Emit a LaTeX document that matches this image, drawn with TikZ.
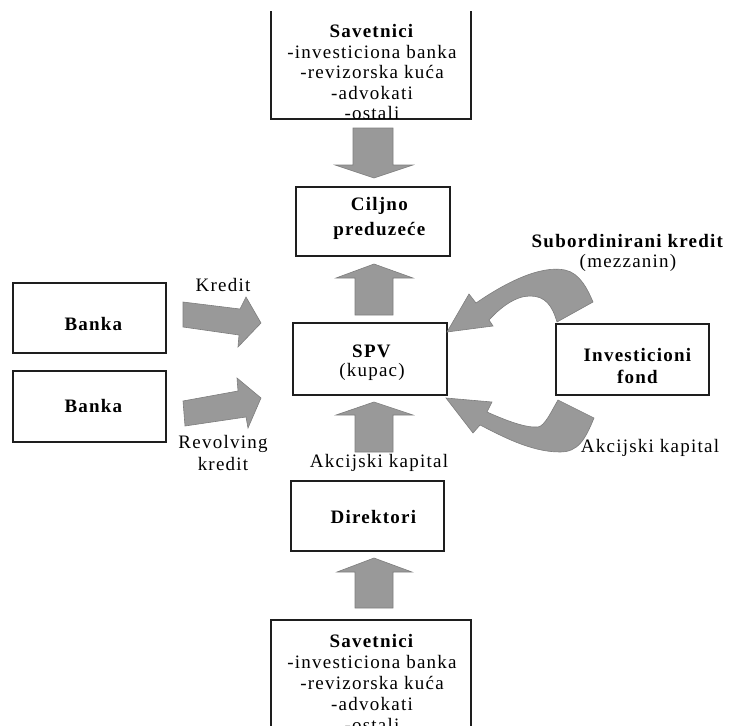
\documentclass[tikz,border=0pt]{standalone}
\usepackage{fontspec}
\setmainfont{Liberation Serif}[LetterSpace=6.5]
\definecolor{arrowfill}{RGB}{153,153,153}
\definecolor{arrowline}{RGB}{125,125,125}
\definecolor{boxline}{RGB}{30,30,30}
\begin{document}
\begin{tikzpicture}[x=1pt,y=-1pt,
  box/.style={draw=boxline,line width=1.3pt,inner sep=0pt,outer sep=0pt},
  boxedge/.style={draw=boxline,line width=1.3pt},
  txt/.style={font=\fontsize{19}{21}\selectfont,align=center,inner sep=0pt,text=black},
  blk/.style={fill=arrowfill,draw=arrowline,line width=0.6pt,line join=miter}]
\path[use as bounding box] (0,0) rectangle (729,726);
\begin{scope}
\clip (0,0) rectangle (729,726);
% boxes
\node[box,draw=none,minimum width=200pt,minimum height=108pt] (sav1) at (371,65) {};
\draw[boxedge] (sav1.north west) -- (sav1.south west) -- (sav1.south east) -- (sav1.north east);
\node[box,minimum width=154pt,minimum height=69pt] (cilj) at (373,221.5) {};
\node[box,minimum width=154pt,minimum height=72pt] (spv) at (370,359) {};
\node[box,minimum width=153pt,minimum height=70pt] (dir) at (367.5,516) {};
\node[box,minimum width=200pt,minimum height=130pt] (sav2) at (371,685) {};
\node[box,minimum width=153pt,minimum height=70pt] (banka1) at (89.5,318) {};
\node[box,minimum width=153pt,minimum height=71pt] (banka2) at (89.5,406.5) {};
\node[box,minimum width=153pt,minimum height=71pt] (fond) at (632.5,359.5) {};
% box texts
\node[txt,font=\fontsize{19}{20.5}\selectfont] (sav1t) at (372,72) {\textbf{Savetnici}\\-investiciona banka\\-revizorska kuća\\-advokati\\-ostali};
\node[txt] (ciljt) at (380,218.5) {\textbf{Ciljno}\\[4pt]\textbf{preduzeće}};
\node[txt,font=\fontsize{19}{19}\selectfont] (spvt) at (372,362.5) {\textbf{SPV}\\(kupac)};
\node[txt] (dirt) at (374,517) {\textbf{Direktori}};
\node[txt,font=\fontsize{19}{21}\selectfont] (sav2t) at (372,683) {\textbf{Savetnici}\\-investiciona banka\\-revizorska kuća\\-advokati\\-ostali};
\node[txt] (b1t) at (94,324) {\textbf{Banka}};
\node[txt] (b2t) at (94,406) {\textbf{Banka}};
\node[txt,font=\fontsize{19}{22}\selectfont] (fondt) at (638,366) {\textbf{Investicioni}\\\textbf{fond}};
% labels
\node[txt] (kredit) at (223,285) {Kredit};
\node[txt,font=\fontsize{19}{22}\selectfont] (revolving) at (223,453) {Revolving\\kredit};
\node[txt] (akc1) at (379,463) {Akcijski kapital};
\node[txt,font=\fontsize{19}{20}\selectfont] (sub) at (628,253) {\textbf{Subordinirani kredit}\\(mezzanin)};
\node[txt] (akc2) at (650,448) {Akcijski kapital};
% vertical block arrows
\draw[blk] (353,128) -- (393,128) -- (393,165) -- (413,165) -- (374,178) -- (335,165) -- (353,165) -- cycle;
\draw[blk] (355,315) -- (355,278) -- (336,278) -- (374,264) -- (413,278) -- (393,278) -- (393,315) -- cycle;
\draw[blk] (355,452) -- (355,415) -- (336,415) -- (374,402) -- (413,415) -- (393,415) -- (393,452) -- cycle;
\draw[blk] (355,608) -- (355,572) -- (337,572) -- (374,558) -- (412,572) -- (393,572) -- (393,608) -- cycle;
% slanted block arrows
\draw[blk] (183,302) -- (240,309) -- (246,297) -- (261,323) -- (238,347) -- (239,335) -- (183,327) -- cycle;
\draw[blk] (183,401) -- (238,391) -- (237,378) -- (261,398) -- (248,428) -- (246,417) -- (185,426) -- cycle;
% curved block arrows
\draw[blk] (447,332) -- (469,294) -- (476,303) .. controls (505,283) and (540,265) .. (565,270) .. controls (580,273) and (588,290) .. (593,302) -- (557,322) .. controls (552,305) and (545,296) .. (530,296) .. controls (515,296) and (500,308) .. (489,320) -- (493,326) -- cycle;
\draw[blk] (446,398) -- (492,402) -- (487,412) .. controls (505,420) and (525,428) .. (538,427) .. controls (545,426) and (552,410) .. (558,400) -- (594,418) .. controls (585,440) and (578,452) .. (560,452) .. controls (530,452) and (500,435) .. (480,425) -- (473,433) -- cycle;
\end{scope}
\end{tikzpicture}
\end{document}
